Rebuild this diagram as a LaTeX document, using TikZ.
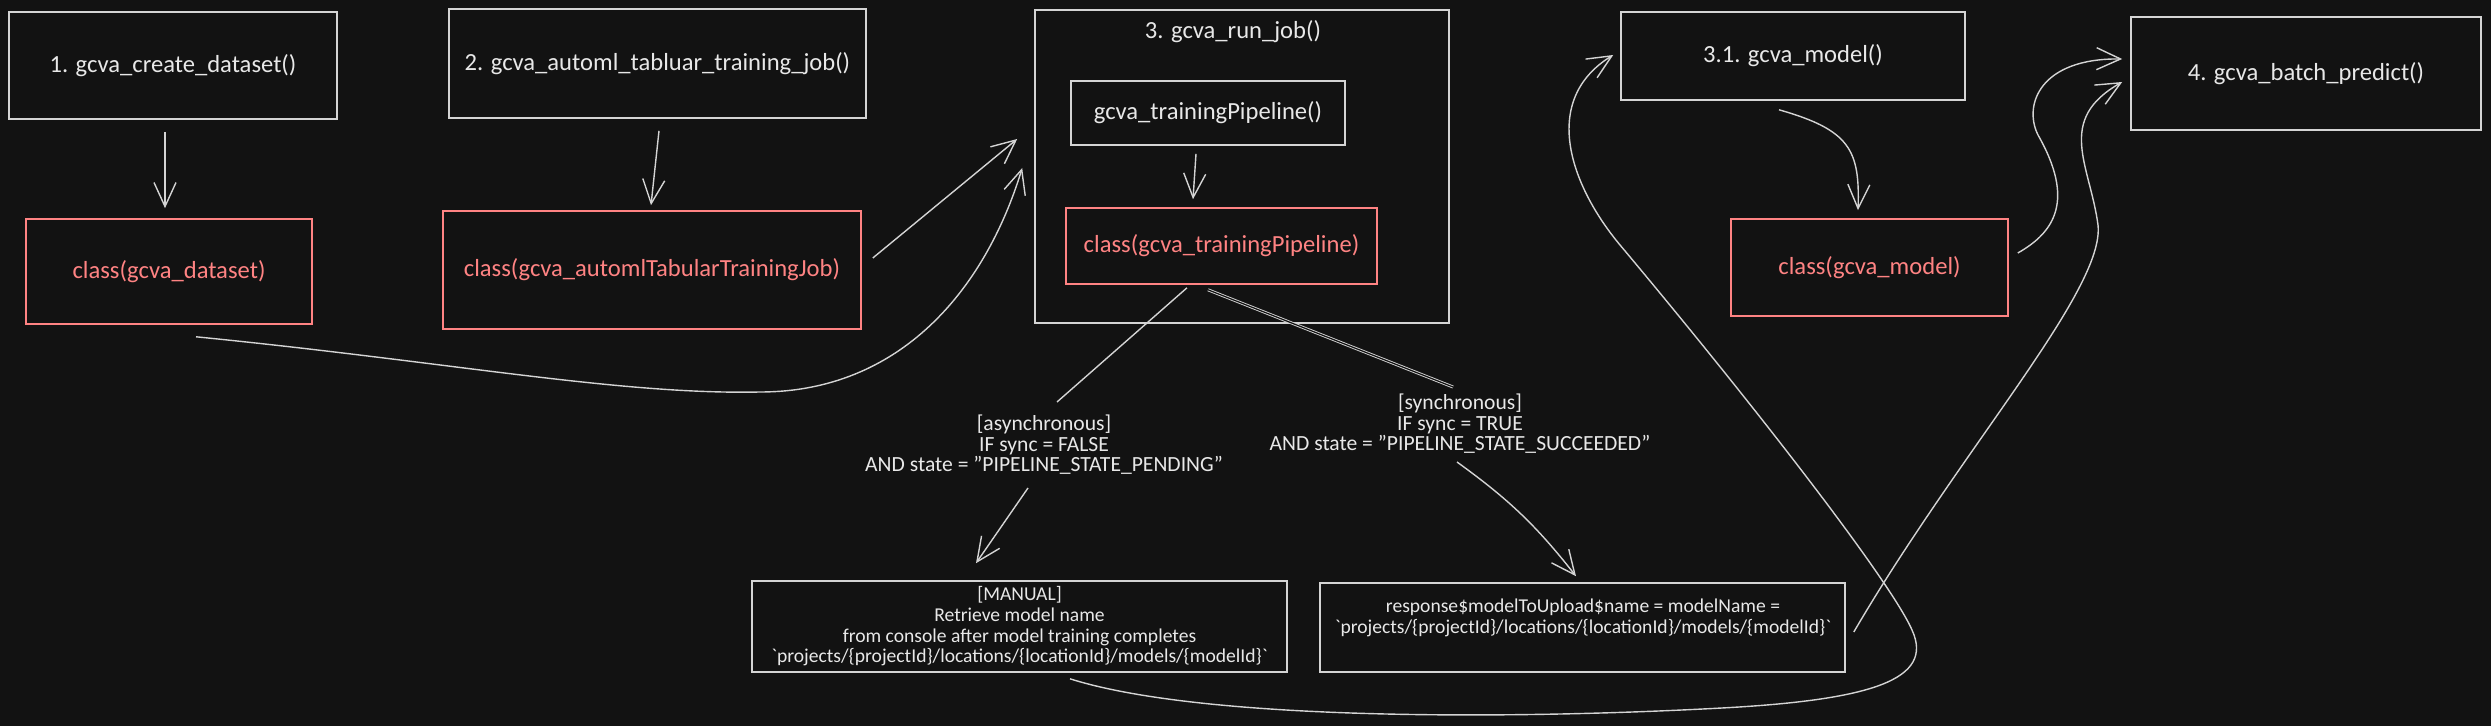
\documentclass[tikz,border=0pt]{standalone}
\usepackage{fontspec}
\setmainfont{Carlito}
\usetikzlibrary{arrows.meta,calc}
\definecolor{bg}{HTML}{121212}
\definecolor{ink}{HTML}{E8E8E8}
\definecolor{edge}{HTML}{D4D4D4}
\definecolor{redl}{HTML}{FF8383}
\begin{document}
\begin{tikzpicture}[x=0.5pt,y=-0.5pt,
  box/.style={draw=edge, line width=0.8pt, text=ink, font=\fontsize{12.3}{14}\selectfont, inner sep=0pt, align=center},
  cls/.style={draw=redl, line width=0.8pt, text=redl, font=\fontsize{12.3}{14}\selectfont, inner sep=0pt, align=center},
  lbl/.style={text=ink, font=\fontsize{10.8}{10.3}\selectfont, align=center, inner sep=0pt},
  small/.style={font=\fontsize{9.8}{10.3}\selectfont},
  arr/.style={draw=edge, line width=0.7pt, -{Straight Barb[length=12pt,width=11pt]}},
  ln/.style={draw=edge, line width=0.7pt},
  dbl/.style={draw=edge, double=bg, double distance=0.6pt, line width=0.45pt}]
\fill[bg] (0,0) rectangle (2491,726);
\useasboundingbox (0,0) rectangle (2491,726);

% boxes
\node[box, minimum width=164pt, minimum height=53.5pt] (b1) at (173,65.5) {1. gcva\_create\_dataset()};
\node[box, minimum width=208.5pt, minimum height=54.5pt] (b2) at (657.5,63.5) {2. gcva\_automl\_tabluar\_training\_job()};
\node[cls, minimum width=143pt, minimum height=52.5pt] (c1) at (169,271.5) {class(gcva\_dataset)};
\node[cls, minimum width=209pt, minimum height=59pt] (c2) at (652,270) {class(gcva\_automlTabularTrainingJob)};
\node[box, minimum width=207pt, minimum height=156.5pt] (b3) at (1242,166.5) {};
\node[lbl, font=\fontsize{12.3}{14}\selectfont] (b3t) at (1233,32) {3. gcva\_run\_job()};
\node[box, minimum width=137pt, minimum height=32pt] (tp) at (1208,113) {gcva\_trainingPipeline()};
\node[cls, minimum width=155.5pt, minimum height=38pt] (c3) at (1221.5,246) {class(gcva\_trainingPipeline)};
\node[box, minimum width=172pt, minimum height=44pt] (b31) at (1793,56) {3.1. gcva\_model()};
\node[box, minimum width=175pt, minimum height=56.5pt] (b4) at (2306,73.5) {4. gcva\_batch\_predict()};
\node[cls, minimum width=138.5pt, minimum height=48.5pt] (c4) at (1869.5,267.5) {class(gcva\_model)};
\node[box, small, minimum width=267.5pt, minimum height=45.5pt] (manual) at (1019.5,626.5)
  {[MANUAL]\\Retrieve model name\\from console after model training completes\\\textasciigrave projects/\{projectId\}/locations/\{locationId\}/models/\{modelId\}\textasciigrave};
\node[box, minimum width=262.5pt, minimum height=44.5pt] (resp) at (1582.5,627.5) {};
\node[lbl, small] (resptext) at (1583,618) {response\$modelToUpload\$name = modelName =\\\textasciigrave projects/\{projectId\}/locations/\{locationId\}/models/\{modelId\}\textasciigrave};

% labels
\node[lbl] (async) at (1044,445) {[asynchronous]\\IF sync = FALSE\\AND state = "PIPELINE\_STATE\_PENDING"};
\node[lbl] (sync) at (1460,424) {[synchronous]\\IF sync = TRUE\\AND state = "PIPELINE\_STATE\_SUCCEEDED"};

% connectors
\draw[arr] ($(b1.south)+(-8,12)$) -- ($(c1.north)+(-4,-10)$);
\draw[arr] ($(b2.south)+(1.5,12)$) -- ($(c2.north)+(-1,-5)$);
\draw[arr] ($(c2.east)+(11,-12)$) -- ($(b3.west)+(-17,-27.5)$);
\draw[arr] ($(c1.south)+(27,12)$) .. controls (450,362) and (620,395) .. (760,392)
  .. controls (900,392) and (985,290) .. ($(b3.west)+(-12,1.5)$);
\draw[arr] ($(tp.south)+(-12,8)$) -- ($(c3.north)+(-28.5,-8)$);
\draw[ln] ($(c3.south)+(-34.5,3)$) -- ($(async.center)+(13,-43)$);
\draw[arr] ($(async.center)+(-16,43)$) -- ($(manual.north)+(-43.5,-17)$);
\draw[dbl] ($(c3.south)+(-13.5,5)$) -- ($(sync.center)+(-7,-37)$);
\draw[arr] ($(sync.center)+(-3,38)$) to[bend left=8] ($(resp.north)+(-6.5,-6)$);
\draw[arr] ($(b31.south)+(-14,9)$) .. controls (1850,130) and (1860,150) .. ($(c4.north)+(-11.5,-8)$);
\draw[arr] ($(c4.east)+(9,-14.5)$) .. controls (2055,232) and (2075,200) .. (2038,135)
  .. controls (2023,105) and (2040,58) .. ($(b4.west)+(-8,-14.5)$);
\draw[arr] ($(resp.east)+(8,4.5)$) .. controls (1960,450) and (2105,290) .. (2098,225)
  .. controls (2090,165) and (2055,120) .. ($(b4.west)+(-8,8.5)$);
\draw[arr] ($(manual.south)+(50.5,6)$) .. controls (1200,720) and (1500,720) .. (1722,708)
  .. controls (1870,700) and (1935,680) .. (1912,630)
  .. controls (1890,580) and (1750,400) .. (1620,245)
  .. controls (1570,185) and (1540,100) .. ($(b31.west)+(-7,-1)$);
\end{tikzpicture}
\end{document}
